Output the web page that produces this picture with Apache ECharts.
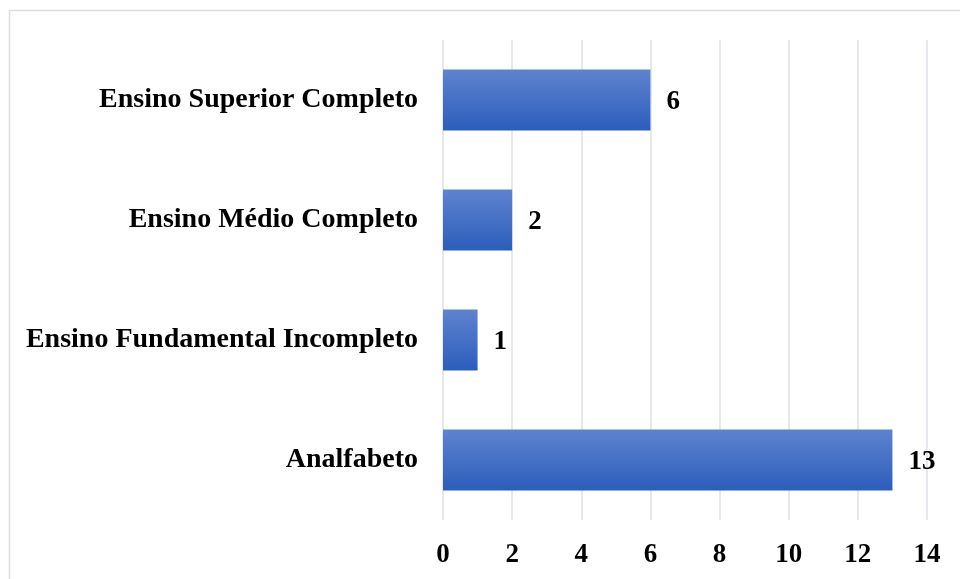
<!DOCTYPE html>
<html>
<head>
<meta charset="utf-8">
<script src="https://cdn.jsdelivr.net/npm/echarts@6/dist/echarts.min.js"></script>
<style>
  html, body { margin: 0; padding: 0; background: #fff; }
  #chart { width: 960px; height: 579px; }
</style>
</head>
<body>
<div id="chart"></div>
<script>
// Education level categories (bottom to top on the axis)
const categories = ['Analfabeto', 'Ensino Fundamental Incompleto', 'Ensino Médio Completo', 'Ensino Superior Completo'];
const counts = [13, 1, 2, 6];
const xTicks = [0, 2, 4, 6, 8, 10, 12, 14];

const font = '"Liberation Serif", "Times New Roman", serif';

const chart = echarts.init(document.getElementById('chart'));
chart.setOption({
  animation: false,
  graphic: [{
    type: 'rect',
    shape: { x: 9.5, y: 10.5, width: 1000, height: 700 },
    style: { fill: 'none', stroke: '#dcdde5', lineWidth: 1.5 },
    silent: true
  }],
  grid: { left: 443, right: 33, top: 40, bottom: 59 },
  xAxis: {
    type: 'value',
    min: xTicks[0],
    max: xTicks[xTicks.length - 1],
    interval: 2,
    axisLine: { show: false },
    axisTick: { show: false },
    splitLine: { lineStyle: { color: '#dde1e8', width: 1.5 } },
    axisLabel: { margin: 22, color: '#000', fontFamily: font, fontWeight: 'bold', fontSize: 27 }
  },
  yAxis: {
    type: 'category',
    data: categories,
    axisLine: { show: false },
    axisTick: { show: false },
    axisLabel: {
      margin: 25, color: '#000', fontFamily: font, fontWeight: 'bold', fontSize: 28,
      padding: [5, 0, 0, 0]
    }
  },
  series: [{
    type: 'bar',
    data: counts,
    barWidth: '51%',
    itemStyle: {
      color: new echarts.graphic.LinearGradient(0, 0, 0, 1, [
        { offset: 0, color: '#5e83cf' },
        { offset: 1, color: '#2c5dbb' }
      ])
    },
    label: {
      show: true,
      position: 'right',
      distance: 16,
      offset: [0, 2],
      color: '#000',
      fontFamily: font,
      fontWeight: 'bold',
      fontSize: 27
    }
  }]
});
</script>
</body>
</html>
